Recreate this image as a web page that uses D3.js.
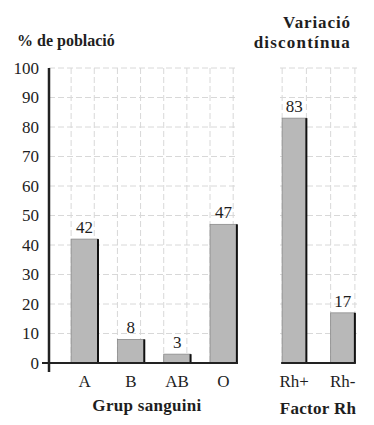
<!DOCTYPE html>
<html>
<head>
<meta charset="utf-8">
<script src="https://cdn.jsdelivr.net/npm/d3@7"></script>
<style>
  body { margin: 0; background: #fff; }
  .grid line { stroke: #d8d8d8; stroke-width: 1; stroke-dasharray: 6,3; }
</style>
</head>
<body>
<svg width="374" height="425" style="font-family:'Liberation Serif', serif"></svg>
<script>
    'use strict';

    // blood groups
    var groups = ['A', 'B', 'AB', 'O'];
    var groupValues = [42, 8, 3, 47];

    // Rh factor
    var rhFactors = ['Rh+', 'Rh-'];
    var rhValues = [83, 17];

    var yTicks = [0, 10, 20, 30, 40, 50, 60, 70, 80, 90, 100];

    var serif = "'Liberation Serif', serif";
    var svg = d3.select("svg");
    var barFill = '#b8b8b8';
    var axisX = 49;

    var y = d3.scaleLinear().domain([0, 100]).range([363, 68]);

    var xGroup = d3.scaleBand().domain(groups)
        .range([61.4, 246.6]).paddingInner(0.42).paddingOuter(0.21);
    var xRh = d3.scaleBand().domain(rhFactors)
        .range([270, 367]).paddingInner(0.5).paddingOuter(0.25);

    function label(x, yPos, txt, size, bold, anchor, spacing) {
        return svg.append("text")
            .attr("x", x).attr("y", yPos)
            .style("font-family", serif)
            .style("font-size", size + "px")
            .style("font-weight", bold ? "bold" : "normal")
            .style("letter-spacing", (spacing || 0) + "px")
            .style("text-anchor", anchor || "start")
            .style("fill", "#1e1e1e")
            .text(txt);
    }

    function drawPanel(x, cats, values, left, right) {
        var grid = svg.append("g").attr("class", "grid");

        // horizontal grid
        grid.selectAll("line.h")
            .data(yTicks.filter(function (t) { return t > 0; }))
            .enter().append("line")
            .attr("class", "h")
            .attr("x1", left).attr("x2", right)
            .attr("y1", function (d) { return y(d); })
            .attr("y2", function (d) { return y(d); });

        // vertical grid at band edges and mid-steps
        var vx = [];
        cats.forEach(function (c) {
            vx.push(x(c));
            vx.push(x(c) + x.step() / 2);
        });
        grid.selectAll("line.v")
            .data(vx)
            .enter().append("line")
            .attr("class", "v")
            .attr("x1", function (d) { return d; })
            .attr("x2", function (d) { return d; })
            .attr("y1", y(100)).attr("y2", y(0));

        var data = cats.map(function (c, i) { return {cat: c, value: values[i]}; });

        var bars = svg.append("g").selectAll("g")
            .data(data)
            .enter().append("g");

        bars.append("rect")
            .attr("x", function (d) { return x(d.cat); })
            .attr("y", function (d) { return y(d.value); })
            .attr("width", x.bandwidth())
            .attr("height", function (d) { return y(0) - y(d.value); })
            .style("fill", barFill)
            .style("stroke", "#8a8a8a")
            .style("stroke-width", 0.8);

        // dark right edge
        bars.append("line")
            .attr("x1", function (d) { return x(d.cat) + x.bandwidth(); })
            .attr("x2", function (d) { return x(d.cat) + x.bandwidth(); })
            .attr("y1", function (d) { return y(d.value); })
            .attr("y2", y(0))
            .style("stroke", "#111")
            .style("stroke-width", 2);

        bars.append("text")
            .attr("x", function (d) { return x(d.cat) + x.bandwidth() / 2; })
            .attr("y", function (d) { return y(d.value) - 6; })
            .style("font-family", serif)
            .style("text-anchor", "middle")
            .style("font-size", "17px")
            .style("fill", "#1e1e1e")
            .text(function (d) { return d.value; });

        // category labels
        svg.append("g")
            .attr("transform", "translate(0," + y(0) + ")")
            .call(d3.axisBottom(x).tickSize(0).tickPadding(12))
            .call(function (g) { g.select(".domain").remove(); })
            .attr("font-family", serif)
            .selectAll("text")
            .style("font-size", "17px")
            .style("font-family", serif)
            .style("fill", "#1e1e1e");
    }

    drawPanel(xGroup, groups, groupValues, axisX, 237);
    drawPanel(xRh, rhFactors, rhValues, 280, 357);

    // baselines
    svg.append("line")
        .attr("x1", 42).attr("x2", 238)
        .attr("y1", y(0)).attr("y2", y(0))
        .style("stroke", "#222").style("stroke-width", 2);
    svg.append("line")
        .attr("x1", xRh("Rh+") - 1).attr("x2", xRh("Rh-") + xRh.bandwidth() + 1)
        .attr("y1", y(0)).attr("y2", y(0))
        .style("stroke", "#222").style("stroke-width", 2);

    // y axis
    svg.append("g")
        .attr("transform", "translate(" + axisX + ",0)")
        .call(d3.axisLeft(y).tickValues(yTicks).tickSize(0).tickPadding(10))
        .call(function (g) { g.select(".domain").remove(); })
        .attr("font-family", serif)
        .selectAll("text")
        .style("font-size", "17px")
        .style("font-family", serif)
        .style("fill", "#1e1e1e");

    svg.append("line")
        .attr("x1", axisX).attr("x2", axisX)
        .attr("y1", y(100)).attr("y2", y(0) + 9)
        .style("stroke", "#222").style("stroke-width", 2.5);

    // titles
    label(17, 46, "% de població", 16, true);
    label(351, 28, "Variació", 17, true, "end", 0.9);
    label(351, 48, "discontínua", 17, true, "end", 1.2);
    label(147, 411, "Grup sanguini", 17, true, "middle", 0.3);
    label(318, 414, "Factor Rh", 17, true, "middle", 0.3);
</script>
</body>
</html>
